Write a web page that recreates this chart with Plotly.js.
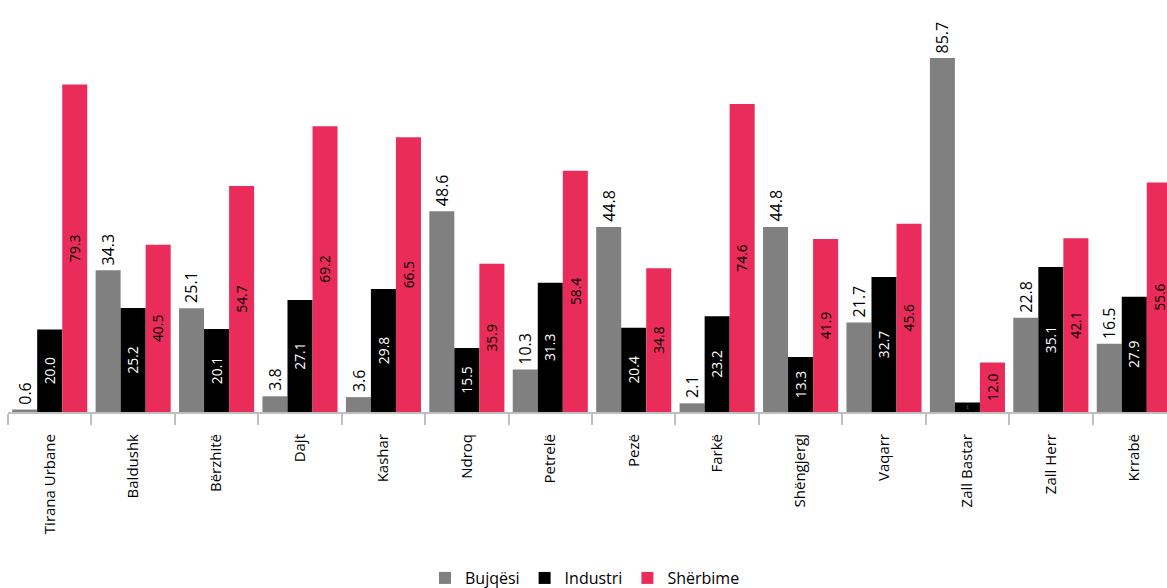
<!DOCTYPE html>
<html>
<head>
<meta charset="utf-8">
<script src="https://cdn.plot.ly/plotly-3.0.1.min.js"></script>
<style>html,body{margin:0;padding:0;overflow:hidden;background:#fff;}</style>
</head>
<body>
<div id="chart"></div>
<script>
const categories = ["Tirana Urbane","Baldushk","Bërzhitë","Dajt","Kashar","Ndroq","Petrelë","Pezë","Farkë","Shëngjergj","Vaqarr","Zall Bastar","Zall Herr","Krrabë"];
const bujqesi  = [0.6, 34.3, 25.1, 3.8, 3.6, 48.6, 10.3, 44.8, 2.1, 44.8, 21.7, 85.7, 22.8, 16.5];
const industri = [20.0, 25.2, 20.1, 27.1, 29.8, 15.5, 31.3, 20.4, 23.2, 13.3, 32.7, 2.3, 35.1, 27.9];
const sherbime = [79.3, 40.5, 54.7, 69.2, 66.5, 35.9, 58.4, 34.8, 74.6, 41.9, 45.6, 12.0, 42.1, 55.6];

const font = "Open Sans, DejaVu Sans, sans-serif";
function fmt(a){ return a.map(v => v.toFixed(1)); }

const traces = [
  {type:'bar', name:'Bujqësi', x:categories, y:bujqesi,
   marker:{color:'#808080'}, hoverinfo:'none'},
  {type:'bar', name:'Industri', x:categories, y:industri, text:fmt(industri),
   marker:{color:'#000000'}, textposition:'inside', insidetextanchor:'middle', textangle:-90,
   insidetextfont:{color:'#fff', size:16, family:font}, hoverinfo:'none'},
  {type:'bar', name:'Shërbime', x:categories, y:sherbime, text:fmt(sherbime),
   marker:{color:'#EA2C5A'}, textposition:'inside', insidetextanchor:'middle', textangle:-90,
   insidetextfont:{color:'#000', size:16, family:font}, hoverinfo:'none'}
];

// labels above the grey bars, rotated like the reference
const annotations = categories.map((c, i) => ({
  x: c, y: bujqesi[i], xref:'x', yref:'y', text: bujqesi[i].toFixed(1),
  textangle:-90, showarrow:false, xanchor:'center', yanchor:'bottom',
  xshift:-25, yshift:3, font:{size:16, family:font, color:'#000'}
}));

const layout = {
  width:1180, height:588,
  margin:{l:8, r:4, t:0, b:176, autoexpand:false},
  paper_bgcolor:'#fff', plot_bgcolor:'#fff',
  barmode:'group', bargap:0.1, bargroupgap:0,
  font:{family:font, color:'#000'},
  xaxis:{type:'category', tickangle:-90, tickfont:{size:15, family:font, color:'#000'},
         showline:true, linecolor:'#BFBFBF', linewidth:2, ticks:'outside', tickson:'boundaries',
         ticklen:11, tickcolor:'#BFBFBF', tickwidth:2, showgrid:false, fixedrange:true,
         automargin:false, ticklabelstandoff:14},
  yaxis:{range:[0, 99.76], visible:false, showgrid:false, zeroline:false, fixedrange:true},
  annotations: annotations,
  showlegend:true,
  legend:{orientation:'h', x:0.494, xanchor:'center', y:-0.403, yanchor:'middle',
          font:{size:16, family:font, color:'#000'}, itemwidth:30, traceorder:'normal'}
};

Plotly.newPlot('chart', traces, layout, {displayModeBar:false, staticPlot:true});
</script>
</body>
</html>
